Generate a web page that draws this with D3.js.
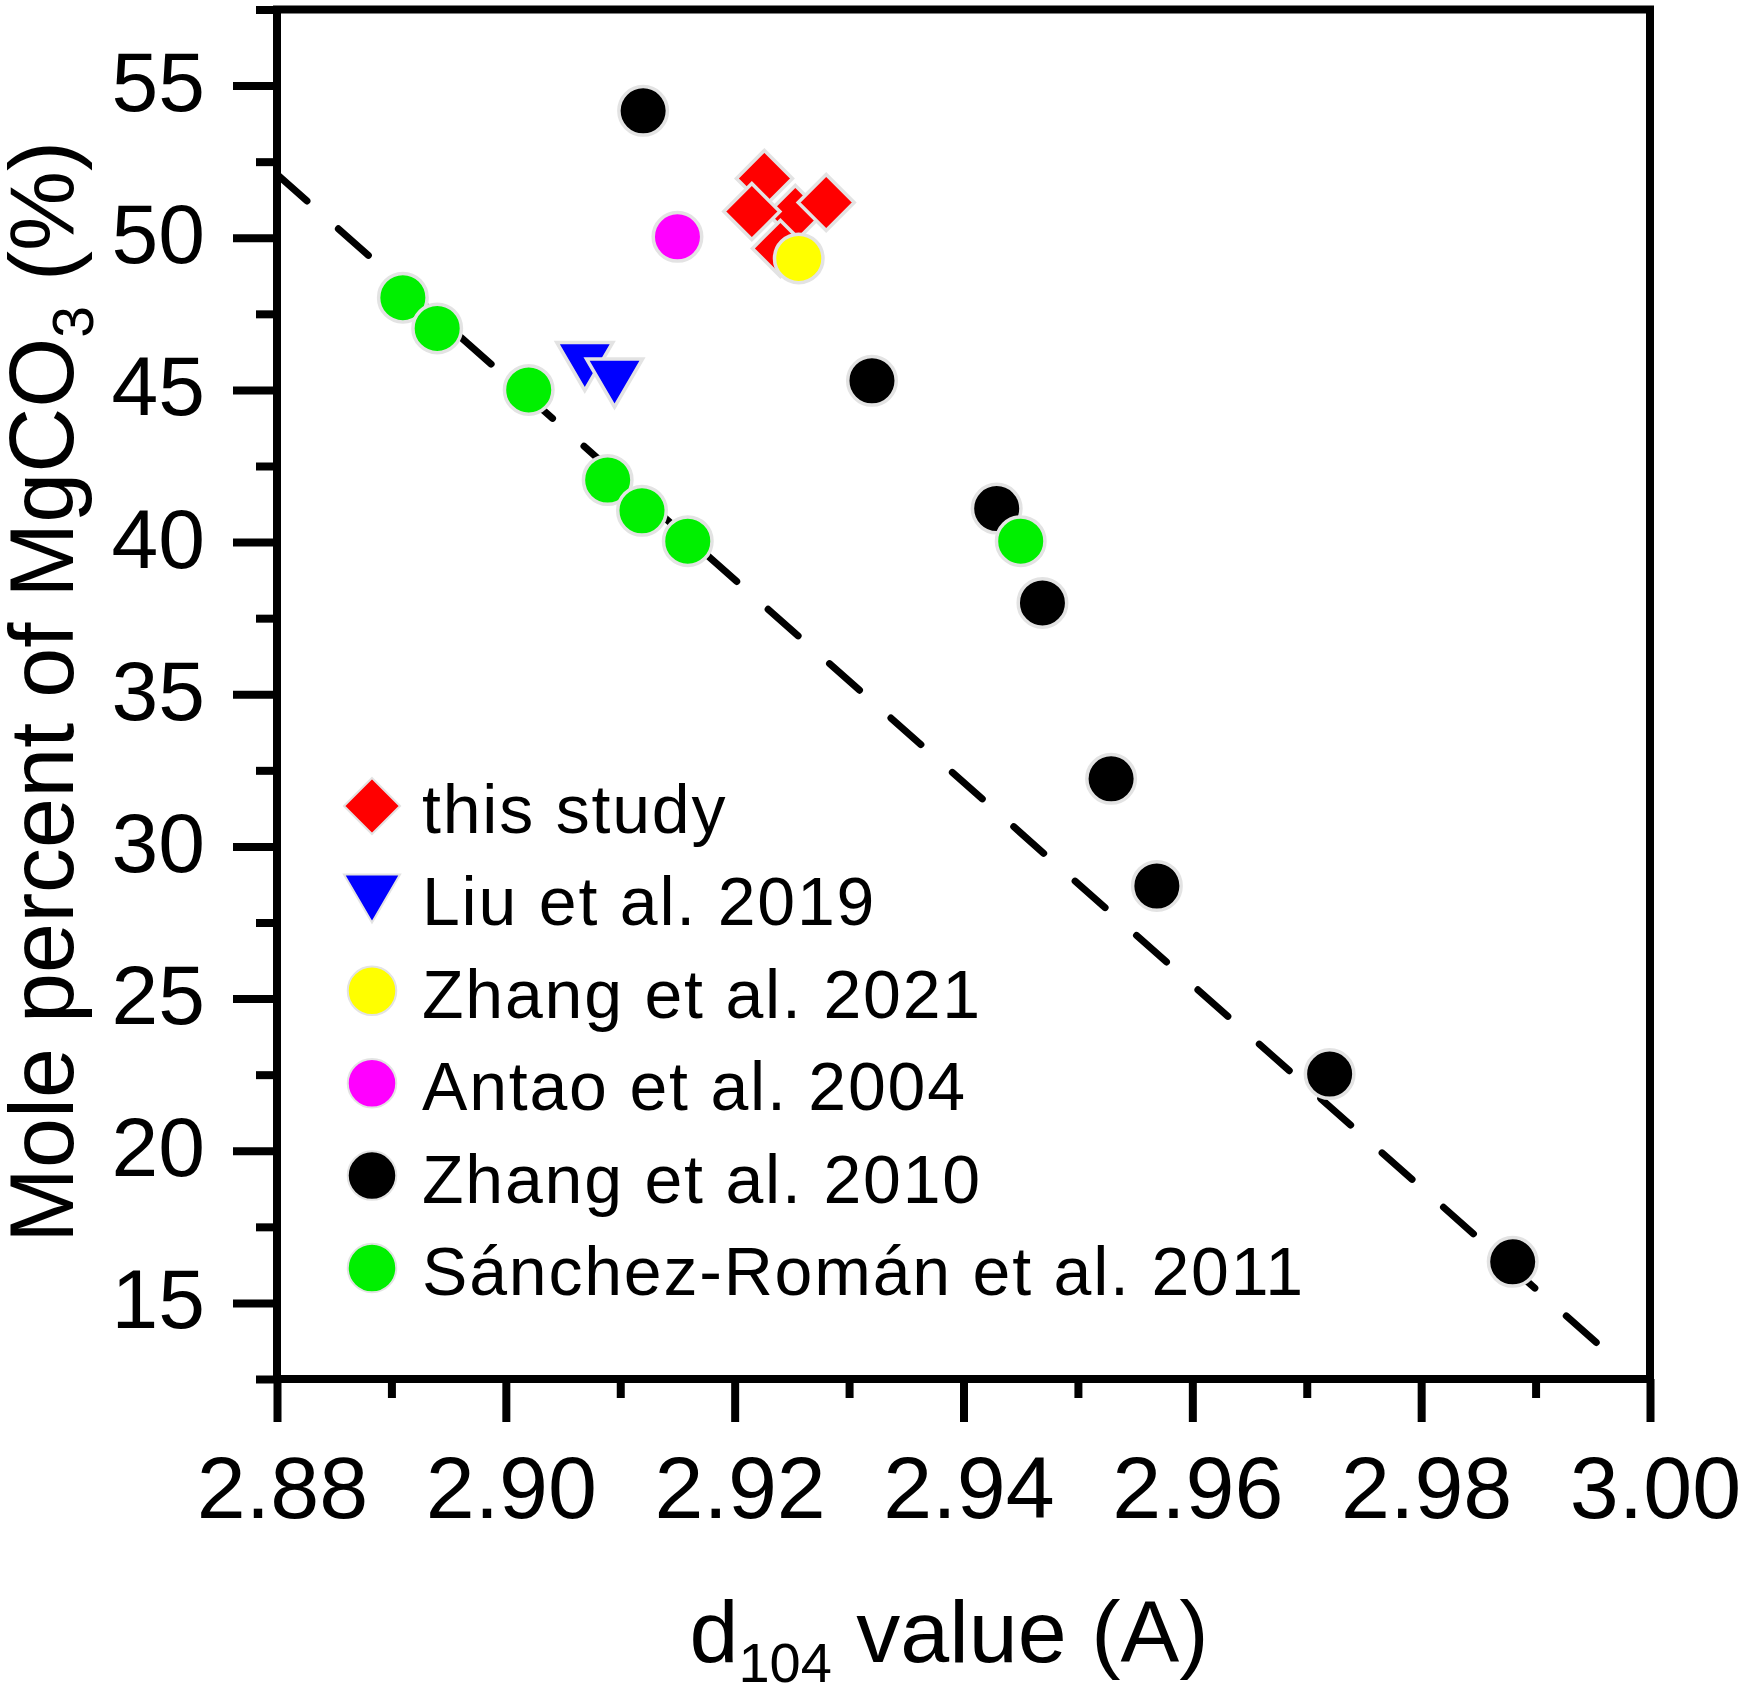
<!DOCTYPE html>
<html>
<head>
<meta charset="utf-8">
<script src="https://cdn.jsdelivr.net/npm/d3@7"></script>
<style>
  body { margin: 0; background: #fff; }
  text { font-family: "Liberation Sans", Arial, sans-serif; fill: #000; }
</style>
</head>
<body>
<div id="chart"></div>
<script>
const WIDTH = 1750;
const HEIGHT = 1689;

// series, in the order they are drawn and listed
const seriesNames = ['this study', 'Liu et al. 2019', 'Zhang et al. 2021',
    'Antao et al. 2004', 'Zhang et al. 2010', 'Sánchez-Román et al. 2011'];
const seriesColors = ['#ff0000', '#0000ff', '#ffff00', '#ff00ff', '#000000', '#00f000'];
const seriesSymbols = ['diamond', 'triangle', 'circle', 'circle', 'circle', 'circle'];

const thisStudyX = [2.9226, 2.9253, 2.9240, 2.9215, 2.9280];
const thisStudyY = [51.95, 50.80, 49.65, 50.86, 51.16];
const liuX = [2.9069, 2.9095];
const liuY = [45.77, 45.23];
const zhang2021X = [2.9256];
const zhang2021Y = [49.32];
const antaoX = [2.9150];
const antaoY = [50.03];
const zhang2010X = [2.9120, 2.9320, 2.9429, 2.9469, 2.9529, 2.9569, 2.9720, 2.9880];
const zhang2010Y = [54.17, 45.30, 41.10, 38.00, 32.22, 28.70, 22.52, 16.35];
const sanchezX = [2.8910, 2.8940, 2.9020, 2.9089, 2.9119, 2.9159, 2.9450];
const sanchezY = [48.03, 47.02, 45.00, 42.04, 41.03, 40.03, 40.03];

// dashed trend line end points
const fitX = [2.88, 2.9953];
const fitY = [52.08, 13.70];

// axes
const xDomain = [2.88, 3.00];
const yDomain = [12.5, 57.5];
const xMajor = [2.88, 2.90, 2.92, 2.94, 2.96, 2.98, 3.00];
const xMinor = [2.89, 2.91, 2.93, 2.95, 2.97, 2.99];
const yMajor = [15, 20, 25, 30, 35, 40, 45, 50, 55];
const yMinor = [12.5, 17.5, 22.5, 27.5, 32.5, 37.5, 42.5, 47.5, 52.5, 57.5];

const allX = [thisStudyX, liuX, zhang2021X, antaoX, zhang2010X, sanchezX];
const allY = [thisStudyY, liuY, zhang2021Y, antaoY, zhang2010Y, sanchezY];

const series = seriesNames.map((name, i) => ({
    name: name,
    color: seriesColors[i],
    symbol: seriesSymbols[i],
    points: allX[i].map((x, j) => ({ x: x, y: allY[i][j] }))
}));

const plot = { left: 277, right: 1650, top: 9.5, bottom: 1379 };
const AXIS_W = 8;

const x = d3.scaleLinear().domain(xDomain).range([plot.left, plot.right]);
const y = d3.scaleLinear().domain(yDomain).range([plot.bottom, plot.top]);

const SVG = d3.select('#chart')
    .append('svg')
    .attr('width', WIDTH)
    .attr('height', HEIGHT);

// marker shapes
const outline = '#e3e3e3';
function symbolPath(kind) {
    if (kind === 'diamond') {
        const h = 28;
        return `M0,${-h}L${h},0L0,${h}L${-h},0Z`;
    }
    if (kind === 'triangle') {
        return 'M-28,-24L28,-24L0,24Z';
    }
    return d3.symbol().type(d3.symbolCircle).size(Math.PI * 24.25 * 24.25)();
}

// dashed line (under the markers), drawn from the lower end so both ends land on a dash
SVG.append('line')
    .attr('x1', x(fitX[1]))
    .attr('y1', y(fitY[1]))
    .attr('x2', x(fitX[0]))
    .attr('y2', y(fitY[0]))
    .attr('stroke', '#000')
    .attr('stroke-width', 7)
    .attr('stroke-linecap', 'round')
    .attr('stroke-dasharray', '40,42');

// data markers
const markers = SVG.append('g').attr('class', 'markers');
series.forEach(s => {
    markers.append('g')
        .selectAll('path')
        .data(s.points)
        .enter().append('path')
        .attr('d', symbolPath(s.symbol))
        .attr('transform', d => `translate(${x(d.x)},${y(d.y)})`)
        .attr('fill', s.color)
        .attr('stroke', outline)
        .attr('stroke-width', 3.5);
});

// frame
SVG.append('rect')
    .attr('x', plot.left)
    .attr('y', plot.top)
    .attr('width', plot.right - plot.left)
    .attr('height', plot.bottom - plot.top)
    .attr('fill', 'none')
    .attr('stroke', '#000')
    .attr('stroke-width', AXIS_W);

// x axis
const xAxisMajor = d3.axisBottom(x).tickValues(xMajor).tickSize(43).tickSizeOuter(0)
    .tickFormat(d3.format('.2f'));
const gx = SVG.append('g')
    .attr('transform', `translate(0,${plot.bottom})`)
    .call(xAxisMajor);
gx.select('.domain').remove();
gx.selectAll('line').attr('stroke-width', AXIS_W);
gx.selectAll('text')
    .attr('y', 139)
    .attr('dy', 0)
    .attr('dx', 5)
    .style('font-size', '88px')
    .style('font-family', '"Liberation Sans", Arial, sans-serif')
    .attr('fill', '#000');

const gxMinor = SVG.append('g')
    .attr('transform', `translate(0,${plot.bottom})`)
    .call(d3.axisBottom(x).tickValues(xMinor).tickSize(19).tickSizeOuter(0).tickFormat(''));
gxMinor.select('.domain').remove();
gxMinor.selectAll('line').attr('stroke-width', AXIS_W);

// y axis
const gy = SVG.append('g')
    .attr('transform', `translate(${plot.left},0)`)
    .call(d3.axisLeft(y).tickValues(yMajor).tickSize(44).tickSizeOuter(0));
gy.select('.domain').remove();
gy.selectAll('line').attr('stroke-width', AXIS_W);
gy.selectAll('text')
    .attr('x', -72)
    .attr('dy', 25)
    .style('font-size', '84px')
    .style('font-family', '"Liberation Sans", Arial, sans-serif')
    .attr('fill', '#000');

const gyMinor = SVG.append('g')
    .attr('transform', `translate(${plot.left},0)`)
    .call(d3.axisLeft(y).tickValues(yMinor).tickSize(21).tickSizeOuter(0).tickFormat(''));
gyMinor.select('.domain').remove();
gyMinor.selectAll('line').attr('stroke-width', AXIS_W);

// axis titles
const xTitle = SVG.append('text')
    .attr('x', 949)
    .attr('y', 1662)
    .attr('text-anchor', 'middle')
    .style('font-size', '88px');
xTitle.append('tspan').text('d');
xTitle.append('tspan').attr('dy', 20).style('font-size', '56px').text('104');
xTitle.append('tspan').attr('dy', -20).text(' value (A)');

const yTitle = SVG.append('text')
    .attr('transform', 'translate(73,692) rotate(-90)')
    .attr('text-anchor', 'middle')
    .style('font-size', '90px');
yTitle.append('tspan').text('Mole percent of MgCO');
yTitle.append('tspan').attr('dy', 20).style('font-size', '57px').text('3');
yTitle.append('tspan').attr('dy', -20).text(' (%)');

// legend
const legendX = 372;
const legendTop = 806;
const legendStep = 92.4;
const legend = SVG.append('g')
    .selectAll('g')
    .data(series)
    .enter().append('g')
    .attr('transform', (d, i) => `translate(${legendX},${legendTop + i * legendStep})`);

legend.append('path')
    .attr('d', d => symbolPath(d.symbol))
    .attr('fill', d => d.color)
    .attr('stroke', outline)
    .attr('stroke-width', 2);

legend.append('text')
    .attr('x', 50)
    .attr('y', 27)
    .style('font-size', '68px')
    .style('letter-spacing', '1.8px')
    .text(d => d.name);
</script>
</body>
</html>
